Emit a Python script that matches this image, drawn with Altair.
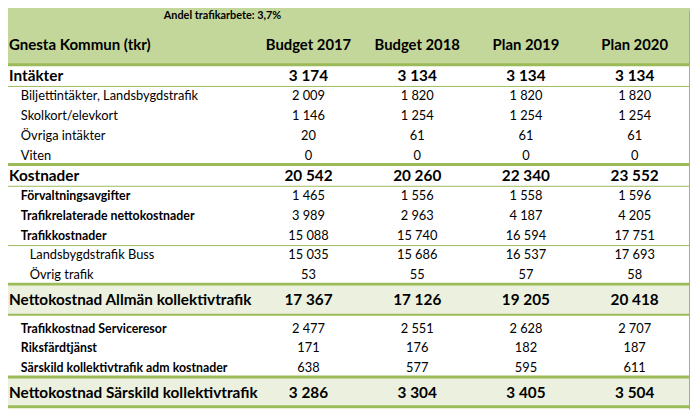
import altair as alt
import pandas as pd

# ---------------- data ----------------
note_text = "Andel trafikarbete:  3,7%"
table_title = "Gnesta Kommun (tkr)"
columns = ["Budget 2017", "Budget 2018", "Plan 2019", "Plan 2020"]

labels = [
    "Intäkter",
    "Biljettintäkter, Landsbygdstrafik",
    "Skolkort/elevkort",
    "Övriga intäkter",
    "Viten",
    "Kostnader",
    "Förvaltningsavgifter",
    "Trafikrelaterade nettokostnader",
    "Trafikkostnader",
    "Landsbygdstrafik Buss",
    "Övrig trafik",
    "Nettokostnad Allmän kollektivtrafik",
    "Trafikkostnad Serviceresor",
    "Riksfärdtjänst",
    "Särskild kollektivtrafik adm kostnader",
    "Nettokostnad Särskild kollektivtrafik",
]
budget_2017 = [3174, 2009, 1146, 20, 0, 20542, 1465, 3989, 15088, 15035, 53, 17367, 2477, 171, 638, 3286]
budget_2018 = [3134, 1820, 1254, 61, 0, 20260, 1556, 2963, 15740, 15686, 55, 17126, 2551, 176, 577, 3304]
plan_2019 = [3134, 1820, 1254, 61, 0, 22340, 1558, 4187, 16594, 16537, 57, 19205, 2628, 182, 595, 3405]
plan_2020 = [3134, 1820, 1254, 61, 0, 23552, 1596, 4205, 17751, 17693, 58, 20418, 2707, 187, 611, 3504]

# row roles (group header, item, bold item, sub item, total)
row_kind = ["group", "item", "item", "item", "item",
            "group", "bold", "bold", "bold", "sub", "sub",
            "total", "bold", "bold", "bold", "total"]

# ---------------- styles ----------------
W, H = 690, 404
HEADER_BG = "#C4D79B"
TOTAL_BG = "#EBF1DE"
LINE = "#9BBB59"
EDGE = "#A6A6A6"
FONT = "Lato"

row_height = {"note": 22, "header": 42, "group": 21, "item": 20, "bold": 20, "sub": 20, "total": 30}
gap_after_total = 4
rule_after = {
    "header": 3,
    "Intäkter": 1,
    "Viten": 3,
    "Kostnader": 1,
    "Trafikkostnader": 1,
    "Övrig trafik": 3,
    "Nettokostnad Allmän kollektivtrafik": 2,
    "Särskild kollektivtrafik adm kostnader": 3,
    "Nettokostnad Särskild kollektivtrafik": 3,
}
label_x = {0: 1, 1: 13, 2: 22}


def fmt(v):
    return f"{v:,}".replace(",", " ")


# ---------------- layout ----------------
bg_rows, rule_rows, label_rows, value_rows = [], [], [], []
top = 0
bg_rows.append({"top": 0, "bottom": row_height["note"] + row_height["header"], "fill": HEADER_BG})
note_c = top + row_height["note"] / 2 + 3
top += row_height["note"]
head_c = top + row_height["header"] / 2
top += row_height["header"]
rule_rows.append({"y": top - 1, "t": rule_after["header"]})
label_rows.append({"label": table_title, "yc": head_c, "kind": "header"})
for c in columns:
    value_rows.append({"col": c, "text": c, "yc": head_c, "kind": "header"})

series = [budget_2017, budget_2018, plan_2019, plan_2020]
prev_kind = None
for i, lab in enumerate(labels):
    kind = row_kind[i]
    if prev_kind == "total":
        top += gap_after_total
    h = row_height[kind]
    yc = top + h / 2
    if kind == "total":
        bg_rows.append({"top": top, "bottom": top + h, "fill": TOTAL_BG})
    label_rows.append({"label": lab, "yc": yc, "kind": kind})
    for c, s in zip(columns, series):
        value_rows.append({"col": c, "text": fmt(s[i]), "yc": yc, "kind": kind})
    if lab in rule_after:
        t = rule_after[lab]
        rule_rows.append({"y": top + h - (1 if t >= 3 else 0), "t": t})
    top += h
    prev_kind = kind

bg_df = pd.DataFrame(bg_rows)
rule_df = pd.DataFrame(rule_rows)
lab_df = pd.DataFrame(label_rows)
val_df = pd.DataFrame(value_rows)

yscale = alt.Scale(domain=[8, 412], reverse=True, zero=False, nice=False)
xcol = alt.X("col:N", scale=alt.Scale(domain=columns, range=[304, 634], padding=0), axis=None)

bg = alt.Chart(bg_df).mark_rect().encode(
    x=alt.value(0), x2=alt.value(W),
    y=alt.Y("top:Q", scale=yscale, axis=None), y2="bottom:Q",
    color=alt.Color("fill:N", scale=None),
)

rules = alt.Chart(rule_df).mark_rule(color=LINE).encode(
    x=alt.value(0), x2=alt.value(W),
    y=alt.Y("y:Q", scale=yscale, axis=None),
    strokeWidth=alt.StrokeWidth("t:Q", scale=None, legend=None),
)

edge = alt.Chart(pd.DataFrame({"y0": [8], "y1": [412]})).mark_rule(color=EDGE, strokeWidth=1).encode(
    x=alt.value(W - 0.5),
    y=alt.Y("y0:Q", scale=yscale, axis=None), y2="y1:Q",
)

note = alt.Chart(pd.DataFrame({"text": [note_text], "yc": [note_c]})).mark_text(
    font=FONT, fontSize=11, fontWeight="bold", align="center", baseline="middle", color="#000"
).encode(x=alt.value(217), y=alt.Y("yc:Q", scale=yscale, axis=None), text="text:N")

label_styles = {
    "header": dict(fontSize=15.2, fontWeight="bold", level=0),
    "group": dict(fontSize=15.5, fontWeight="bold", level=0),
    "total": dict(fontSize=15.5, fontWeight="bold", level=0),
    "item": dict(fontSize=13, fontWeight="normal", level=1),
    "bold": dict(fontSize=12.5, fontWeight="bold", level=1),
    "sub": dict(fontSize=13, fontWeight="normal", level=2),
}
value_styles = {
    "header": dict(fontSize=15, fontWeight="bold"),
    "group": dict(fontSize=15.5, fontWeight="bold"),
    "total": dict(fontSize=15.5, fontWeight="bold"),
    "item": dict(fontSize=13, fontWeight="normal"),
    "bold": dict(fontSize=13, fontWeight="normal"),
    "sub": dict(fontSize=13, fontWeight="normal"),
}

layers = [bg, rules, edge, note]
for kind, st in label_styles.items():
    layers.append(
        alt.Chart(lab_df).transform_filter(alt.datum.kind == kind).mark_text(
            font=FONT, fontSize=st["fontSize"], fontWeight=st["fontWeight"],
            align="left", baseline="middle", color="#000",
        ).encode(
            x=alt.value(label_x[st["level"]]),
            y=alt.Y("yc:Q", scale=yscale, axis=None),
            text="label:N",
        )
    )
for kind, st in value_styles.items():
    layers.append(
        alt.Chart(val_df).transform_filter(alt.datum.kind == kind).mark_text(
            font=FONT, fontSize=st["fontSize"], fontWeight=st["fontWeight"],
            align="center", baseline="middle", color="#000",
        ).encode(
            x=xcol,
            y=alt.Y("yc:Q", scale=yscale, axis=None),
            text="text:N",
        )
    )

chart = alt.layer(*layers).properties(
    width=W, height=H,
    autosize=alt.AutoSizeParams(type="none"),
    padding=0,
    background="white",
).configure_view(stroke=None)

chart.save("out.html", embed_options={"renderer": "svg", "actions": False})
